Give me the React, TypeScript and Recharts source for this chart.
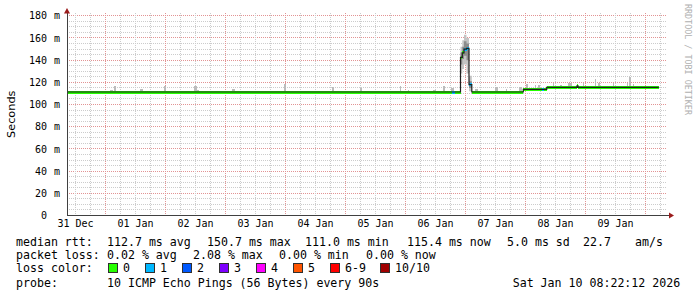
import React from 'react';
import { ComposedChart, XAxis, YAxis, CartesianGrid, Area, Line, ReferenceDot } from 'recharts';

// ---------- axes (time in hours relative to 2026-01-01 00:00) ----------
const X_MIN = -15.4;
const X_MAX = 224.6;
const Y_MAX = 182.5;

const dayTicks = [-12, 12, 36, 60, 84, 108, 132, 156, 180, 204];
const dayLabels = ['31 Dec', '01 Jan', '02 Jan', '03 Jan', '04 Jan', '05 Jan', '06 Jan', '07 Jan', '08 Jan', '09 Jan'];
const yTicks = [0, 20, 40, 60, 80, 100, 120, 140, 160, 180];
const majorGridX = [0, 24, 48, 72, 96, 120, 144, 168, 192, 216];
const minorGridX = [-12, -6, 6, 12, 18, 30, 36, 42, 54, 60, 66, 78, 84, 90, 102, 108, 114, 126, 132, 138, 150, 156, 162, 174, 180, 186, 198, 204, 210, 222];
const majorGridY = [20, 40, 60, 80, 100, 120, 140, 160, 180];
const minorGridY = [5, 10, 15, 25, 30, 35, 45, 50, 55, 65, 70, 75, 85, 90, 95, 105, 110, 115, 125, 130, 135, 145, 150, 155, 165, 170, 175];

// ---------- median rtt (ms), step starts; last entry = end of data ----------
const medTimes = [-15.4, 138.72, 139.8, 142.0, 142.72, 143.4, 144.4, 145.4, 146.52, 167.12, 174.48, 175.52, 176.48, 188.6, 189.0, 221.32];
const medValues = [111.3, 111.3, 111.3, 142.5, 146.5, 150.0, 150.7, 118.0, 111.3, 113.6, 113.6, 113.6, 115.4, 116.8, 115.4, 115.4];
const medLoss = [0, 1, 0, 0, 0, 1, 1, 1, 0, 0, 1, 0, 0, 0, 0, 0];

// ---------- smoke spikes (start h, end h, top ms) ----------
const smokeStart = [1.8, 3.52, 13.8, 23.4, 35.4, 36.6, 50.6, 71.4, 90.6, 101.8, 117.8, 121.0, 131.0, 135.0, 138.2, 147.8, 155.8, 160.1, 165.4, 168.2, 171.8, 173.0, 179.0, 181.8, 185.0, 191.0, 195.8, 197.0, 203.0, 208.6, 209.4, 211.0, 216.6, 220.6];
const smokeEnd = [2.88, 4.08, 15.0, 24.2, 36.4, 37.4, 51.8, 72.2, 91.4, 102.6, 118.2, 121.4, 132.2, 135.8, 139.4, 149.0, 157.0, 160.5, 166.6, 169.0, 172.2, 173.8, 179.4, 182.6, 186.6, 191.4, 196.2, 197.8, 203.4, 209.0, 210.2, 211.4, 217.0, 221.0];
const smokeTop = [113.1, 116.7, 114.0, 116.7, 116.7, 113.1, 114.0, 118.5, 116.1, 114.9, 116.7, 113.1, 113.1, 116.7, 114.9, 114.0, 115.8, 114.0, 115.8, 118.5, 117.6, 117.6, 119.7, 117.6, 119.7, 119.7, 122.7, 119.7, 119.7, 119.7, 124.5, 118.5, 116.7, 116.7];

// ---------- smoke around the latency burst ----------
const burstTimes = [142.0, 142.72, 143.4, 144.4, 145.4, 146.52];
const burstOuterLo = [128, 132, 136, 128, 112];
const burstOuterHi = [152, 158, 163, 160, 126];
const burstInnerLo = [136, 141, 144, 140, 115];
const burstInnerHi = [147, 152, 157, 155, 121];

// ---------- legend ----------
const lossLegend = [
  { label: '0', color: '#26ff00' },
  { label: '1', color: '#00b8ff' },
  { label: '2', color: '#0059ff' },
  { label: '3', color: '#7e00ff' },
  { label: '4', color: '#ff00ff' },
  { label: '5', color: '#ff5500' },
  { label: '6-9', color: '#ff0000' },
  { label: '10/10', color: '#a00000' },
];
const rttStats = ['112.7 ms avg', '150.7 ms max', '111.0 ms min', '115.4 ms now', '5.0 ms sd', '22.7', 'am/s'];
const lossStats = ['0.02 % avg', '2.08 % max', '0.00 % min', '0.00 % now'];
const probeText = '10 ICMP Echo Pings (56 Bytes) every 90s';
const dateText = 'Sat Jan 10 08:22:12 2026';

// ---------- styling ----------
const MONO = "'DejaVu Sans Mono', monospace";
const SANS = "'DejaVu Sans', sans-serif";
const BAND_HALF = 1.35;
const ARROW = '#9b1c1c';
const AXIS = '#404040';
const MINOR = '#cccccc';
const MAJOR = '#e29494';

const allGridX = [...minorGridX, ...majorGridX];
const allGridY = [...minorGridY, ...majorGridY];
const majorXSet = new Set(majorGridX);
const majorYSet = new Set(majorGridY);

const medianAt = (t: number) => {
  let v = medValues[0];
  for (let i = 0; i < medTimes.length; i++) if (medTimes[i] <= t) v = medValues[i];
  return v;
};

const bucket = (l: number) => (l >= 10 ? 7 : l >= 6 ? 6 : l);

const bandRows = (code: number) => {
  const rows: any[] = [];
  const n = medTimes.length - 1;
  for (let i = 0; i < n; i++) {
    if (bucket(medLoss[i]) !== code) continue;
    const m = medValues[i];
    const r = [m - BAND_HALF, m + BAND_HALF];
    rows.push({ t: medTimes[i], r });
    const nextSame = i + 1 < n && bucket(medLoss[i + 1]) === code;
    if (!nextSame) {
      rows.push({ t: medTimes[i + 1], r });
      rows.push({ t: medTimes[i + 1], r: null });
    }
  }
  return rows;
};

const smokeRows = (() => {
  const rows: any[] = [];
  smokeStart.forEach((s, i) => {
    const lo = medianAt(s) - 1.3;
    const r = [lo, smokeTop[i]];
    rows.push({ t: s, r });
    rows.push({ t: smokeEnd[i], r });
    rows.push({ t: smokeEnd[i], r: null });
  });
  return rows;
})();

const burstRows = (lo: number[], hi: number[]) => {
  const rows: any[] = [];
  for (let i = 0; i < lo.length; i++) rows.push({ t: burstTimes[i], r: [lo[i], hi[i]] });
  rows.push({ t: burstTimes[burstTimes.length - 1], r: [lo[lo.length - 1], hi[hi.length - 1]] });
  return rows;
};

const medianRows = medTimes.map((t, i) => ({ t, v: medValues[i] }));

const YTick = (props: any) => {
  const { x, y, payload } = props;
  const v = payload.value;
  return (
    <g>
      <text x={x - 20} y={y + 3.6} textAnchor="end" fontFamily={MONO} fontSize={10} fill="#000">{v}</text>
      {v !== 0 && <text x={x - 13} y={y + 3.6} fontFamily={MONO} fontSize={10} fill="#000">m</text>}
    </g>
  );
};

const XTick = (props: any) => {
  const { x, y, payload } = props;
  const idx = dayTicks.indexOf(payload.value);
  return (
    <text x={x} y={y + 11.5} textAnchor="middle" fontFamily={MONO} fontSize={10} fill="#000">
      {dayLabels[idx]}
    </text>
  );
};

// grid coordinates through the axis scale (falls back to the plot offset if the scale isn't callable)
const gridGen = (vals: number[], axisKey: 'xAxis' | 'yAxis', lo: number, hi: number) => (props: any) => {
  const ax = props && props[axisKey];
  const s = ax && ax.scale;
  if (typeof s === 'function') {
    const out = vals.map((v) => s(v));
    if (out.every((p: any) => typeof p === 'number' && isFinite(p))) return out;
  }
  if (s && typeof s.map === 'function') {
    const out = vals.map((v) => s.map(v));
    if (out.every((p: any) => typeof p === 'number' && isFinite(p))) return out;
  }
  const off = props && props.offset;
  if (!off) return [];
  if (axisKey === 'xAxis') return vals.map((v) => off.left + ((v - lo) / (hi - lo)) * off.width);
  return vals.map((v) => off.top + (1 - (v - lo) / (hi - lo)) * off.height);
};

const gridLine = (vals: number[], majors: Set<number>) => (p: any) => {
  const isMajor = majors.has(vals[p.index]);
  return (
    <line
      key={p.key}
      x1={p.x1}
      y1={p.y1}
      x2={p.x2}
      y2={p.y2}
      stroke={isMajor ? MAJOR : MINOR}
      strokeDasharray="1 1"
      shapeRendering="crispEdges"
      fill="none"
    />
  );
};

export default function App() {
  const codes = lossLegend.map((_, i) => i);
  return (
    <div style={{ position: 'absolute', left: 0, top: 0, width: 697, height: 297, background: '#fff' }}>
      <ComposedChart width={697} height={297} margin={{ top: 13, right: 30, bottom: 61.5, left: 0 }}>
        <XAxis
          type="number"
          dataKey="t"
          domain={[X_MIN, X_MAX]}
          allowDataOverflow
          ticks={dayTicks}
          interval={0}
          tick={<XTick />}
          tickLine={false}
          tickSize={0}
          tickMargin={0}
          height={20}
          axisLine={{ stroke: AXIS, shapeRendering: 'crispEdges' }}
        />
        <YAxis
          type="number"
          domain={[0, Y_MAX]}
          allowDataOverflow
          ticks={yTicks}
          interval={0}
          tick={<YTick />}
          tickLine={false}
          tickSize={0}
          tickMargin={0}
          width={67}
          axisLine={{ stroke: AXIS, shapeRendering: 'crispEdges' }}
          label={{
            content: (p: any) => {
              const vb = p.viewBox || { x: 0, y: 13, width: 67, height: 202.5 };
              const cx = vb.x + 11;
              const cy = vb.y + vb.height / 2;
              return (
                <text x={cx} y={cy} transform={`rotate(-90 ${cx} ${cy})`} textAnchor="middle" dominantBaseline="central" fontFamily={SANS} fontSize={11.3} fill="#000">
                  Seconds
                </text>
              );
            },
          }}
        />
        <CartesianGrid
          stroke={MINOR}
          strokeDasharray="1 1"
          verticalCoordinatesGenerator={gridGen(allGridX, 'xAxis', X_MIN, X_MAX)}
          horizontalCoordinatesGenerator={gridGen(allGridY, 'yAxis', 0, Y_MAX)}
          vertical={gridLine(allGridX, majorXSet)}
          horizontal={gridLine(allGridY, majorYSet)}
        />
        <Area data={smokeRows} dataKey="r" type="stepAfter" stroke="none" fill="#bcbcbc" fillOpacity={1} isAnimationActive={false} dot={false} activeDot={false} shapeRendering="crispEdges" />
        <Area data={burstRows(burstOuterLo, burstOuterHi)} dataKey="r" type="stepAfter" stroke="none" fill="#c4c4c4" fillOpacity={1} isAnimationActive={false} dot={false} activeDot={false} />
        <Area data={burstRows(burstInnerLo, burstInnerHi)} dataKey="r" type="stepAfter" stroke="none" fill="#8c8c8c" fillOpacity={1} isAnimationActive={false} dot={false} activeDot={false} />
        <Line data={medianRows} dataKey="v" type="stepAfter" stroke="#202020" strokeWidth={1.2} dot={false} activeDot={false} isAnimationActive={false} />
        {codes.map((c) => {
          const rows = bandRows(c);
          if (!rows.length) return null;
          return (
            <Area key={c} data={rows} dataKey="r" type="stepAfter" stroke="none" fill={lossLegend[c].color} fillOpacity={1} isAnimationActive={false} dot={false} activeDot={false} shapeRendering="crispEdges" />
          );
        })}
        <ReferenceDot
          x={X_MIN}
          y={Y_MAX}
          r={0}
          ifOverflow="visible"
          shape={(p: any) => (
            <path d={`M${p.cx},${p.cy - 5} L${p.cx + 3},${p.cy + 0.5} L${p.cx - 3},${p.cy + 0.5} Z`} fill={ARROW} />
          )}
        />
        <ReferenceDot
          x={X_MAX}
          y={0}
          r={0}
          ifOverflow="visible"
          shape={(p: any) => (
            <g>
              <line x1={p.cx} y1={p.cy} x2={p.cx + 3} y2={p.cy} stroke={AXIS} shapeRendering="crispEdges" />
              <path d={`M${p.cx + 2},${p.cy - 3} L${p.cx + 7},${p.cy} L${p.cx + 2},${p.cy + 3} Z`} fill={ARROW} />
            </g>
          )}
        />
      </ComposedChart>
      <svg width={697} height={297} style={{ position: 'absolute', left: 0, top: 0, pointerEvents: 'none' }}>
        <text x={685} y={4} transform="rotate(90 685 4)" fontFamily={MONO} fontSize={8.4} fill="#b0b0b0">
          RRDTOOL / TOBI OETIKER
        </text>
        <g fontFamily={MONO} fontSize={11.6} fill="#000">
          <text x={16} y={245.5}>median rtt:</text>
          {[107, 207, 305, 407, 507, 583, 635].map((x, i) => (
            <text key={'r' + i} x={x} y={245.5}>{rttStats[i]}</text>
          ))}
          <text x={16} y={259}>packet loss:</text>
          {[107, 193, 279, 366].map((x, i) => (
            <text key={'l' + i} x={x} y={259}>{lossStats[i]}</text>
          ))}
          <text x={16} y={272.3}>loss color:</text>
          {[108, 145, 182, 219, 256, 293, 330, 380].map((x, i) => (
            <g key={'c' + i}>
              <rect x={x + 0.5} y={263.5} width={9} height={9} fill={lossLegend[i].color} stroke="#303030" strokeWidth={1} />
              <text x={x + 15} y={272.3}>{lossLegend[i].label}</text>
            </g>
          ))}
          <text x={16} y={286.5}>probe:</text>
          <text x={107} y={286.5}>{probeText}</text>
          <text x={512.7} y={286.5}>{dateText}</text>
        </g>
      </svg>
    </div>
  );
}
